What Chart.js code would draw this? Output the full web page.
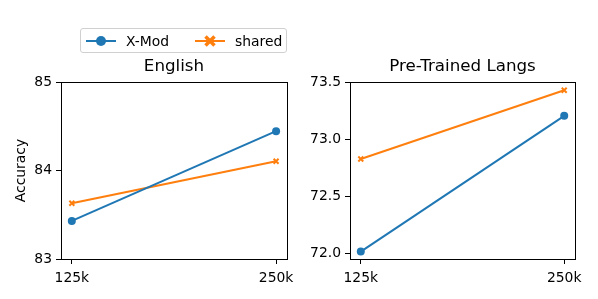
<!DOCTYPE html>
<html>
<head>
<meta charset="utf-8">
<script src="https://cdn.jsdelivr.net/npm/chart.js@4/dist/chart.umd.min.js"></script>
<style>
  html, body { margin: 0; padding: 0; background: #fff; }
  #fig { position: relative; width: 598px; height: 299px; overflow: hidden; }
  #fig canvas { position: absolute; top: 0; }
  #legend {
    position: absolute; left: 80px; top: 28px; width: 207px; height: 25px;
    border: 1px solid #d0d0d0; border-radius: 3px; box-sizing: border-box;
    font: 13.9px "DejaVu Sans", sans-serif; color: #000;
  }
  #legend .item { position: absolute; top: 3px; height: 18px; line-height: 18px; }
  #legend svg { position: absolute; top: 0; }
  #legend span { position: absolute; white-space: nowrap; }
</style>
</head>
<body>
<div id="fig">
  <canvas id="chart-english" width="300" height="299" style="left:0;width:300px;height:299px"></canvas>
  <canvas id="chart-langs" width="298" height="299" style="left:300px;width:298px;height:299px"></canvas>
  <div id="legend">
    <div class="item" style="left:4px">
      <svg width="32" height="18"><line x1="1" y1="9" x2="31" y2="9" stroke="#1f77b4" stroke-width="2"/><circle cx="16" cy="9" r="5" fill="#1f77b4"/></svg>
      <span style="left:41px">X-Mod</span>
    </div>
    <div class="item" style="left:113px">
      <svg width="32" height="18"><line x1="1" y1="9" x2="31" y2="9" stroke="#ff7f0e" stroke-width="2"/><path d="M11.5 4.5 L20.5 13.5 M20.5 4.5 L11.5 13.5" stroke="#ff7f0e" stroke-width="3.5"/></svg>
      <span style="left:41px">shared</span>
    </div>
  </div>
</div>
<script>
/* ── Données ───────────────────────────────────────────────────── */
const steps          = ['125k', '250k'];
const englishXMod    = [83.43, 84.445];
const englishShared  = [83.63, 84.105];
const langsXMod      = [72.02, 73.205];
const langsShared    = [72.828, 73.428];
const englishYTicks  = [83, 84, 85];
const langsYTicks    = [72.0, 72.5, 73.0, 73.5];

const BLUE   = '#1f77b4';
const ORANGE = '#ff7f0e';
const FONT   = '"DejaVu Sans", sans-serif';

Chart.defaults.font.family = FONT;
Chart.defaults.color = '#000';

const toPoints = vals => vals.map((v, i) => ({ x: i, y: v }));

/* cadre complet autour de la zone de tracé */
const spines = {
  id: 'spines',
  afterDraw(chart) {
    const { ctx, chartArea: a } = chart;
    ctx.save();
    ctx.strokeStyle = '#000';
    ctx.lineWidth = 1;
    ctx.strokeRect(Math.round(a.left) + 0.5, Math.round(a.top) + 0.5,
      Math.round(a.right - a.left), Math.round(a.bottom - a.top));
    ctx.restore();
  },
};

function makeChart(id, opts) {
  const el = document.getElementById(id);
  return new Chart(el, {
    type: 'line',
    data: {
      datasets: [
        {
          label: 'X-Mod', data: toPoints(opts.xmod),
          borderColor: BLUE, backgroundColor: BLUE, borderWidth: 2,
          pointStyle: 'circle', pointRadius: 4, pointBorderWidth: 0,
        },
        {
          label: 'shared', data: toPoints(opts.shared),
          borderColor: ORANGE, backgroundColor: ORANGE, borderWidth: 2,
          pointStyle: 'crossRot', pointRadius: 3.5, pointBorderWidth: 2,
        },
      ],
    },
    options: {
      responsive: false, animation: false,
      layout: { padding: { left: 0, right: opts.padRight, top: 0, bottom: 0 } },
      plugins: {
        legend: { display: false },
        tooltip: { enabled: false },
        title: {
          display: true, text: opts.title, fullSize: false,
          font: { size: 16.7, weight: 'normal', lineHeight: 1.2 },
          padding: { top: 57, bottom: 5 }, color: '#000',
        },
      },
      scales: {
        x: {
          type: 'linear', min: -0.053, max: 1.053,
          afterBuildTicks: s => { s.ticks = steps.map((_, i) => ({ value: i })); },
          afterFit: s => { s.height = 40; },
          ticks: { callback: v => steps[v], font: { size: 13.9 }, padding: 6, maxRotation: 0, autoSkip: false },
          grid: { display: true, drawOnChartArea: false, drawTicks: true, tickLength: 5, color: '#000' },
          border: { display: true, color: '#000' },
        },
        y: {
          min: opts.yMin, max: opts.yMax,
          afterBuildTicks: s => { s.ticks = opts.yTicks.map(v => ({ value: v })); },
          afterFit: s => { s.width = opts.yWidth; },
          ticks: { callback: v => opts.fmt(v), font: { size: 13.9 }, padding: 4 },
          grid: { display: true, drawOnChartArea: false, drawTicks: true, tickLength: 5, color: '#000' },
          border: { display: true, color: '#000' },
          title: {
            display: !!opts.yTitle, text: opts.yTitle || '',
            font: { size: 13.9 }, padding: { top: 13, bottom: 0 }, color: '#000',
          },
        },
      },
    },
    plugins: [spines],
  });
}

makeChart('chart-english', {
  title: 'English', xmod: englishXMod, shared: englishShared,
  yMin: 83, yMax: 85, yTicks: englishYTicks, fmt: v => String(v),
  yWidth: 61, padRight: 13, yTitle: 'Accuracy',
});

makeChart('chart-langs', {
  title: 'Pre-Trained Langs', xmod: langsXMod, shared: langsShared,
  yMin: 71.955, yMax: 73.5, yTicks: langsYTicks, fmt: v => v.toFixed(1),
  yWidth: 50, padRight: 23,
});
</script>
</body>
</html>
